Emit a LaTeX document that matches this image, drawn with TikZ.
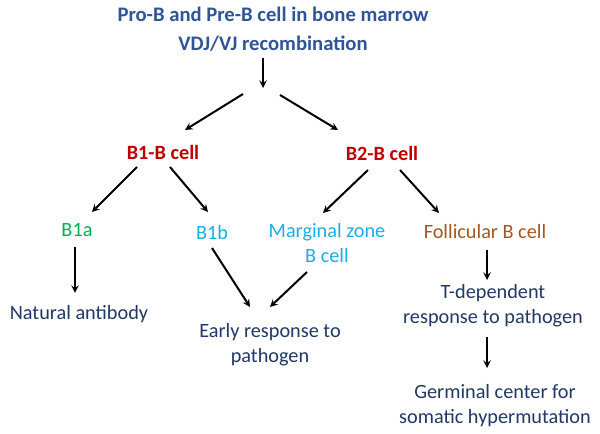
\documentclass[tikz,border=0pt]{standalone}
\usepackage{fontspec}
\setmainfont{Carlito}
\usepackage{tikz}
\usetikzlibrary{arrows,positioning}
\definecolor{titleblue}{HTML}{2F5597}
\definecolor{cellred}{HTML}{C00000}
\definecolor{navy}{HTML}{203864}
\definecolor{bonegreen}{HTML}{00B050}
\definecolor{skyblue}{HTML}{1AAEE8}
\definecolor{follbrown}{HTML}{A5561E}

\begin{document}
\begin{tikzpicture}[x=0.75pt, y=-0.75pt,
    lbl/.style={align=center, inner sep=1pt, font=\fontsize{15.2}{18.8}\selectfont, text=navy},
    cell/.style={lbl, font=\fontsize{15.2}{18.8}\selectfont\bfseries, text=cellred},
    link/.style={->,>=stealth,line width=1.5pt}
]
\useasboundingbox (0,0) rectangle (600,434);

\node [lbl, font=\fontsize{15.5}{21.5}\selectfont\bfseries, text=titleblue] (origin) at (273,29)
    {Pro-B and Pre-B cell in bone marrow\\VDJ/VJ recombination};
\coordinate (fork) at (263,88);

\node [cell] (b1) at (163,152) {B1-B cell};
\node [cell] (b2) at (382,153) {B2-B cell};

\node [lbl, text=bonegreen] (b1a) at (77,230) {B1a};
\node [lbl, text=skyblue] (b1b) at (212,233) {B1b};
\node [lbl, text=skyblue] (mz) at (327,243) {Marginal zone\\B cell};
\node [lbl, text=follbrown] (fol) at (485,232) {Follicular B cell};

\node [lbl] (natural) at (79,314) {Natural antibody};
\node [lbl] (early) at (270,345) {Early response to\\pathogen};
\node [lbl] (tdep) at (493,306) {T-dependent\\response to pathogen};
\node [lbl] (germ) at (495,406) {Germinal center for\\somatic hypermutation};

% Lineage arrows
\draw[link] ([shift={(-10,29)}]origin.center) -- (fork);
\draw[link] ([shift={(-20,6)}]fork) -- ([shift={(22,-22)}]b1.center);
\draw[link] ([shift={(17,7)}]fork) -- ([shift={(-44,-23)}]b2.center);

\draw[link] ([shift={(-26,15)}]b1.center) -- ([shift={(15,-18)}]b1a.center);
\draw[link] ([shift={(7,15)}]b1.center) -- ([shift={(-4,-21)}]b1b.center);
\draw[link] ([shift={(-14,17)}]b2.center) -- ([shift={(-4,-30)}]mz.center);
\draw[link] ([shift={(18,17)}]b2.center) -- ([shift={(-46,-19)}]fol.center);

% Response arrows
\draw[link] ([shift={(-2,17)}]b1a.center) -- ([shift={(-4,-21)}]natural.center);
\draw[link] ([shift={(0,15)}]b1b.center) -- ([shift={(-20,-38)}]early.center);
\draw[link] ([shift={(-20,29)}]mz.center) -- ([shift={(0,-38)}]early.center);
\draw[link] ([shift={(2,18)}]fol.center) -- ([shift={(-6,-26)}]tdep.center);
\draw[link] ([shift={(-6,31)}]tdep.center) -- ([shift={(-8,-38)}]germ.center);

\end{tikzpicture}
\end{document}
